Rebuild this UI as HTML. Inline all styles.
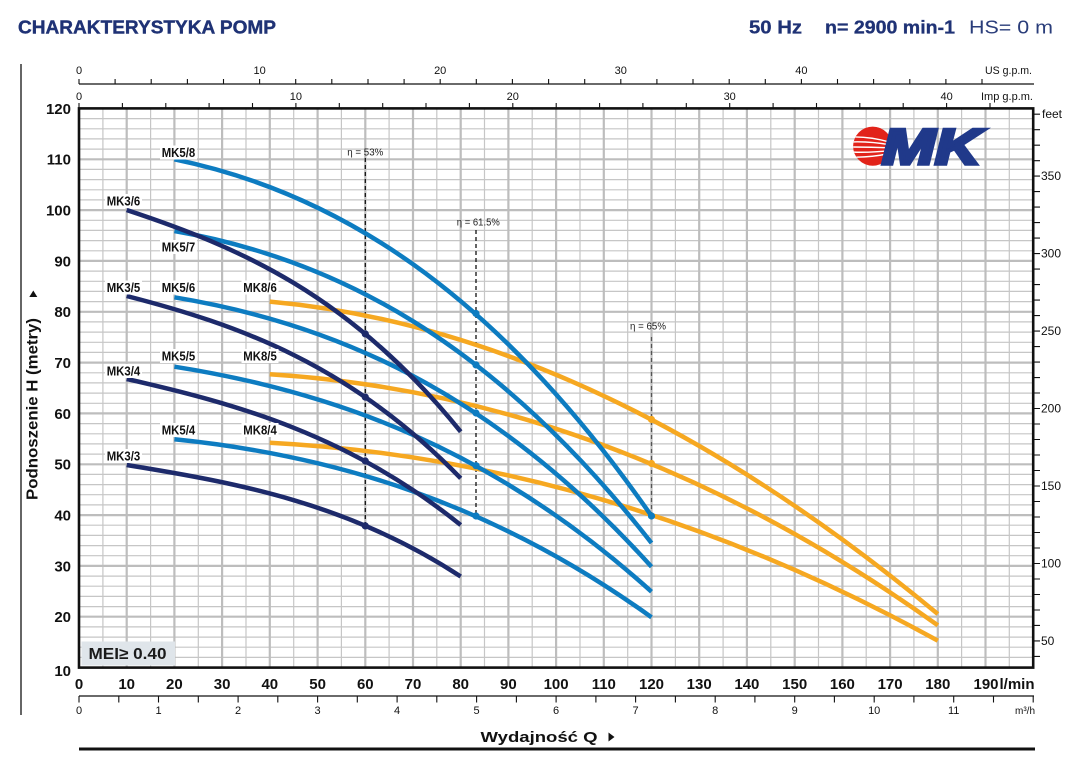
<!DOCTYPE html>
<html><head><meta charset="utf-8"><style>
html,body{margin:0;padding:0;background:#fff;}
svg{display:block;}
text{font-family:"Liberation Sans",Arial,sans-serif;}
</style></head><body>
<svg width="1078" height="767" viewBox="0 0 1078 767" xmlns="http://www.w3.org/2000/svg">
<rect width="1078" height="767" fill="#fff"/>

<!-- Header -->
<text x="18" y="33.5" font-size="18" font-weight="bold" fill="#1f3275" stroke="#1f3275" stroke-width="0.4" textLength="258" lengthAdjust="spacingAndGlyphs">CHARAKTERYSTYKA POMP</text>
<text x="749" y="33.5" font-size="18" font-weight="bold" fill="#1f3275" stroke="#1f3275" stroke-width="0.3" textLength="53" lengthAdjust="spacingAndGlyphs">50 Hz</text>
<text x="825" y="33.5" font-size="18" font-weight="bold" fill="#1f3275" stroke="#1f3275" stroke-width="0.3" textLength="130" lengthAdjust="spacingAndGlyphs">n= 2900 min-1</text>
<text x="969" y="33.5" font-size="18" fill="#2a3d7a" textLength="84" lengthAdjust="spacingAndGlyphs">HS= 0 m</text>

<!-- left frame line -->
<line x1="21" y1="64" x2="21" y2="715" stroke="#000" stroke-width="1.2"/>

<!-- Grid -->
<path fill="none" stroke="#c6c6c6" stroke-width="1.2" d="M102.9 108.4V667.6M150.6 108.4V667.6M198.3 108.4V667.6M246 108.4V667.6M293.7 108.4V667.6M341.4 108.4V667.6M389.1 108.4V667.6M436.8 108.4V667.6M484.5 108.4V667.6M532.2 108.4V667.6M580 108.4V667.6M627.7 108.4V667.6M675.4 108.4V667.6M723.1 108.4V667.6M770.8 108.4V667.6M818.5 108.4V667.6M866.2 108.4V667.6M913.9 108.4V667.6M961.6 108.4V667.6M1009.3 108.4V667.6
M79 657.4H1033M79 647.2H1033M79 637.1H1033M79 626.9H1033M79 606.6H1033M79 596.4H1033M79 586.2H1033M79 576.1H1033M79 555.7H1033M79 545.6H1033M79 535.4H1033M79 525.2H1033M79 504.9H1033M79 494.7H1033M79 484.6H1033M79 474.4H1033M79 454.1H1033M79 443.9H1033M79 433.8H1033M79 423.6H1033M79 403.3H1033M79 393.1H1033M79 382.9H1033M79 372.8H1033M79 352.4H1033M79 342.3H1033M79 332.1H1033M79 321.9H1033M79 301.6H1033M79 291.4H1033M79 281.3H1033M79 271.1H1033M79 250.8H1033M79 240.6H1033M79 230.4H1033M79 220.3H1033M79 199.9H1033M79 189.8H1033M79 179.6H1033M79 169.4H1033M79 149.1H1033M79 138.9H1033M79 128.8H1033M79 118.6H1033"/>
<path fill="none" stroke="#bdbdbd" stroke-width="2.2" d="M126.7 108.4V667.6M174.4 108.4V667.6M222.1 108.4V667.6M269.8 108.4V667.6M317.6 108.4V667.6M365.3 108.4V667.6M413 108.4V667.6M460.7 108.4V667.6M508.4 108.4V667.6M556.1 108.4V667.6M603.8 108.4V667.6M651.5 108.4V667.6M699.2 108.4V667.6M746.9 108.4V667.6M794.7 108.4V667.6M842.4 108.4V667.6M890.1 108.4V667.6M937.8 108.4V667.6M985.5 108.4V667.6
M79 616.7H1033M79 565.9H1033M79 515.1H1033M79 464.3H1033M79 413.4H1033M79 362.6H1033M79 311.8H1033M79 260.9H1033M79 210.1H1033M79 159.3H1033"/>

<!-- Logo -->
<defs><clipPath id="disc"><circle cx="872.7" cy="146.2" r="19.6"/></clipPath></defs>
<circle cx="872.7" cy="146.2" r="19.6" fill="#e2231a"/>
<g clip-path="url(#disc)" fill="none" stroke="#fff" stroke-width="1.4">
<path d="M850 137 Q872 136 896 144"/>
<path d="M850 142 Q872 141 896 146"/>
<path d="M850 147 Q872 147 896 148"/>
<path d="M850 152 Q872 153 896 150"/>
<path d="M850 157 Q872 158 896 152"/>
</g>
<text x="882" y="164" font-size="50" font-weight="bold" font-style="italic" fill="#20398a" stroke="#20398a" stroke-width="3.5" stroke-linejoin="miter" textLength="99" lengthAdjust="spacingAndGlyphs">MK</text>

<!-- MEI box -->
<rect x="81.5" y="641.5" width="93.5" height="24" fill="#dfe5ea"/>
<text x="88.5" y="659" font-size="16" font-weight="bold" fill="#1a1a1a" textLength="78" lengthAdjust="spacingAndGlyphs">MEI≥ 0.40</text>

<!-- Efficiency dashed lines -->
<g fill="none" stroke-width="1.3" stroke-dasharray="4,3">
<line x1="365.3" y1="158" x2="365.3" y2="527" stroke="#111"/>
<line x1="476" y1="230" x2="476" y2="515" stroke="#111"/>
<line x1="651.5" y1="337" x2="651.5" y2="516" stroke="#555"/>
</g>
<text x="365.3" y="155.3" font-size="10" fill="#222" text-anchor="middle" textLength="36" lengthAdjust="spacingAndGlyphs">η = 53%</text>
<text x="478.3" y="225.3" font-size="10" fill="#222" text-anchor="middle" textLength="43" lengthAdjust="spacingAndGlyphs">η = 61.5%</text>
<text x="648" y="329.6" font-size="10" fill="#222" text-anchor="middle" textLength="36" lengthAdjust="spacingAndGlyphs">η = 65%</text>

<!-- Curves -->
<g fill="none" stroke-width="4.5" stroke-linecap="butt">
<g stroke="#f6a821">
<path d="M269.8,301.6 C492.5,321.7 715.1,428.9 937.8,614"/>
<path d="M269.8,374.3 C492.5,388.1 715.1,466 937.8,625.3"/>
<path d="M269.8,442.7 C492.5,454.3 715.1,518 937.8,640.7"/>
</g>
<g stroke="#0d7cc1">
<path d="M174.4,159.3 C333.4,192 492.5,287.5 651.5,516"/>
<path d="M174.4,231 C333.4,258.5 492.5,340 651.5,543"/>
<path d="M174.4,297.3 C333.4,323.5 492.5,391 651.5,566.7"/>
<path d="M174.4,366.7 C333.4,391.8 492.5,448.3 651.5,591.7"/>
<path d="M174.4,439.3 C333.4,455.3 492.5,502.8 651.5,617.3"/>
</g>
<g stroke="#1d2a6b">
<path d="M126.7,210 C238,246.9 349.4,293.8 460.7,431.7"/>
<path d="M126.7,296 C238,324.8 349.4,363.7 460.7,478.3"/>
<path d="M126.7,379 C238,404.1 349.4,435.4 460.7,525"/>
<path d="M126.7,465 C238,483 349.4,503.6 460.7,576.5"/>
</g>
</g>

<!-- Dots -->
<g fill="#1d2a6b">
<circle cx="365.3" cy="333.9" r="3.6"/>
<circle cx="365.3" cy="397.1" r="3.6"/>
<circle cx="365.3" cy="461" r="3.6"/>
<circle cx="365.3" cy="525.9" r="3.6"/>
</g>
<g fill="#0d7cc1">
<circle cx="476" cy="313.5" r="3.6"/>
<circle cx="476" cy="364.9" r="3.6"/>
<circle cx="476" cy="413" r="3.6"/>
<circle cx="476" cy="465.7" r="3.6"/>
<circle cx="476" cy="516" r="3.6"/>
</g>
<g fill="#f6a821">
<circle cx="651.5" cy="419.5" r="3.6"/>
<circle cx="651.5" cy="463.5" r="3.6"/>
</g>
<circle cx="651.5" cy="516" r="3.6" fill="#0d7cc1"/>

<!-- Curve labels -->
<g fill="#fff">
<rect x="160" y="145.5" width="37" height="14"/>
<rect x="105" y="194" width="37" height="14"/>
<rect x="160" y="240" width="37" height="14"/>
<rect x="105" y="280.5" width="37" height="14"/>
<rect x="160" y="280.5" width="37" height="14"/>
<rect x="241.5" y="280.5" width="37" height="14"/>
<rect x="160" y="349" width="37" height="14"/>
<rect x="241.5" y="349" width="37" height="14"/>
<rect x="105" y="364" width="37" height="14"/>
<rect x="160" y="423" width="37" height="14"/>
<rect x="241.5" y="423" width="37" height="14"/>
<rect x="105" y="449" width="37" height="14"/>
</g>
<g font-size="13" font-weight="bold" fill="#111">
<text x="161.7" y="157" textLength="33.5" lengthAdjust="spacingAndGlyphs">MK5/8</text>
<text x="106.7" y="205.3" textLength="33.5" lengthAdjust="spacingAndGlyphs">MK3/6</text>
<text x="161.7" y="251.3" textLength="33.5" lengthAdjust="spacingAndGlyphs">MK5/7</text>
<text x="106.7" y="292" textLength="33.5" lengthAdjust="spacingAndGlyphs">MK3/5</text>
<text x="161.7" y="292" textLength="33.5" lengthAdjust="spacingAndGlyphs">MK5/6</text>
<text x="243.3" y="292" textLength="33.5" lengthAdjust="spacingAndGlyphs">MK8/6</text>
<text x="161.7" y="360.6" textLength="33.5" lengthAdjust="spacingAndGlyphs">MK5/5</text>
<text x="243.3" y="360.6" textLength="33.5" lengthAdjust="spacingAndGlyphs">MK8/5</text>
<text x="106.7" y="375.3" textLength="33.5" lengthAdjust="spacingAndGlyphs">MK3/4</text>
<text x="161.7" y="434.6" textLength="33.5" lengthAdjust="spacingAndGlyphs">MK5/4</text>
<text x="243.3" y="434.6" textLength="33.5" lengthAdjust="spacingAndGlyphs">MK8/4</text>
<text x="106.7" y="460.6" textLength="33.5" lengthAdjust="spacingAndGlyphs">MK3/3</text>
</g>

<!-- Plot border -->
<rect x="79" y="108.4" width="954.2" height="559.2" fill="none" stroke="#111" stroke-width="2.6"/>

<!-- Top axes: US gpm -->
<line x1="79" y1="84" x2="1034" y2="84" stroke="#111" stroke-width="1.2"/>
<path stroke="#111" stroke-width="1.1" d="M79 79V84M115.1 79V84M151.2 79V84M187.4 79V84M223.5 79V84M259.6 79V84M295.7 79V84M331.8 79V84M368 79V84M404.1 79V84M440.2 79V84M476.3 79V84M512.4 79V84M548.6 79V84M584.7 79V84M620.8 79V84M656.9 79V84M693 79V84M729.2 79V84M765.3 79V84M801.4 79V84M837.5 79V84M873.6 79V84M909.8 79V84M945.9 79V84M982 79V84"/>
<g font-size="11" fill="#111" text-anchor="middle">
<text x="79" y="74">0</text>
<text x="259.6" y="74">10</text>
<text x="440.2" y="74">20</text>
<text x="620.8" y="74">30</text>
<text x="801.4" y="74">40</text>
</g>
<text x="1032" y="74" font-size="11" fill="#111" text-anchor="end" textLength="47" lengthAdjust="spacingAndGlyphs">US g.p.m.</text>

<!-- Imp gpm -->
<path stroke="#111" stroke-width="1.1" d="M79 103V108.4M122.4 103V108.4M165.8 103V108.4M209.1 103V108.4M252.5 103V108.4M295.9 103V108.4M339.3 103V108.4M382.7 103V108.4M426 103V108.4M469.4 103V108.4M512.8 103V108.4M556.2 103V108.4M599.6 103V108.4M642.9 103V108.4M686.3 103V108.4M729.7 103V108.4M773.1 103V108.4M816.5 103V108.4M859.8 103V108.4M903.2 103V108.4M946.6 103V108.4M990 103V108.4"/>
<g font-size="11" fill="#111" text-anchor="middle">
<text x="79" y="100">0</text>
<text x="295.9" y="100">10</text>
<text x="512.8" y="100">20</text>
<text x="729.7" y="100">30</text>
<text x="946.6" y="100">40</text>
</g>
<text x="1033" y="100" font-size="11" fill="#111" text-anchor="end" textLength="52" lengthAdjust="spacingAndGlyphs">Imp g.p.m.</text>

<!-- Right axis feet -->
<path stroke="#111" stroke-width="1.1" d="M1033 656.4H1040M1033 640.9H1040M1033 625.4H1040M1033 610H1040M1033 594.5H1040M1033 579H1040M1033 563.5H1040M1033 548H1040M1033 532.5H1040M1033 517H1040M1033 501.5H1040M1033 486H1040M1033 470.5H1040M1033 455H1040M1033 439.5H1040M1033 424H1040M1033 408.5H1040M1033 393H1040M1033 377.6H1040M1033 362.1H1040M1033 346.6H1040M1033 331.1H1040M1033 315.6H1040M1033 300.1H1040M1033 284.6H1040M1033 269.1H1040M1033 253.6H1040M1033 238.1H1040M1033 222.6H1040M1033 207.1H1040M1033 191.6H1040M1033 176.1H1040M1033 160.7H1040M1033 145.2H1040M1033 129.7H1040M1033 114.2H1040"/>
<g font-size="12" fill="#111">
<text x="1041" y="645">50</text>
<text x="1041" y="567.5">100</text>
<text x="1041" y="490">150</text>
<text x="1041" y="412.5">200</text>
<text x="1041" y="335.1">250</text>
<text x="1041" y="257.6">300</text>
<text x="1041" y="180.1">350</text>
<text x="1042" y="118">feet</text>
</g>

<!-- Left y labels -->
<g font-size="15" font-weight="bold" fill="#111" text-anchor="end">
<text x="71" y="676">10</text>
<text x="71" y="622">20</text>
<text x="71" y="571.3">30</text>
<text x="71" y="520.4">40</text>
<text x="71" y="469.6">50</text>
<text x="71" y="418.8">60</text>
<text x="71" y="368">70</text>
<text x="71" y="317.1">80</text>
<text x="71" y="266.3">90</text>
<text x="71" y="215.5">100</text>
<text x="71" y="164.6">110</text>
<text x="71" y="113.8">120</text>
</g>

<!-- Left title -->
<text transform="translate(37.5,500) rotate(-90)" x="0" y="0" font-size="15.5" font-weight="bold" fill="#111" textLength="182" lengthAdjust="spacingAndGlyphs">Podnoszenie H  (metry)</text>
<polygon points="33.3,290.5 29.3,297 37.3,297" fill="#111"/>

<!-- Bottom l/min labels -->
<g font-size="15" font-weight="bold" fill="#111" text-anchor="middle">
<text x="79" y="689">0</text>
<text x="126.7" y="689">10</text>
<text x="174.4" y="689">20</text>
<text x="222.1" y="689">30</text>
<text x="269.8" y="689">40</text>
<text x="317.6" y="689">50</text>
<text x="365.3" y="689">60</text>
<text x="413" y="689">70</text>
<text x="460.7" y="689">80</text>
<text x="508.4" y="689">90</text>
<text x="556.1" y="689">100</text>
<text x="603.8" y="689">110</text>
<text x="651.5" y="689">120</text>
<text x="699.2" y="689">130</text>
<text x="746.9" y="689">140</text>
<text x="794.7" y="689">150</text>
<text x="842.4" y="689">160</text>
<text x="890.1" y="689">170</text>
<text x="937.8" y="689">180</text>
<text x="986" y="689">190</text>
</g>
<text x="999.5" y="689" font-size="15" font-weight="bold" fill="#111">l/min</text>

<!-- m3/h axis -->
<line x1="79" y1="696" x2="1034" y2="696" stroke="#111" stroke-width="1.2"/>
<path stroke="#111" stroke-width="1.1" d="M79 696V702.5M118.8 696V702.5M158.5 696V702.5M198.3 696V702.5M238.1 696V702.5M277.8 696V702.5M317.6 696V702.5M357.3 696V702.5M397.1 696V702.5M436.8 696V702.5M476.6 696V702.5M516.4 696V702.5M556.1 696V702.5M595.9 696V702.5M635.6 696V702.5M675.4 696V702.5M715.2 696V702.5M754.9 696V702.5M794.7 696V702.5M834.4 696V702.5M874.2 696V702.5M913.9 696V702.5M953.7 696V702.5M993.5 696V702.5M1033.2 696V702.5"/>
<g font-size="11" fill="#111" text-anchor="middle">
<text x="79" y="714">0</text>
<text x="158.5" y="714">1</text>
<text x="238.1" y="714">2</text>
<text x="317.6" y="714">3</text>
<text x="397.1" y="714">4</text>
<text x="476.6" y="714">5</text>
<text x="556.1" y="714">6</text>
<text x="635.6" y="714">7</text>
<text x="715.2" y="714">8</text>
<text x="794.7" y="714">9</text>
<text x="874.2" y="714">10</text>
<text x="953.7" y="714">11</text>
</g>
<text x="1035" y="714" font-size="10" fill="#111" text-anchor="end">m³/h</text>

<!-- Wydajnosc -->
<text x="480.5" y="742" font-size="15" font-weight="bold" fill="#111" textLength="117" lengthAdjust="spacingAndGlyphs">Wydajność Q</text>
<polygon points="608.5,732.5 608.5,741.5 614.5,737" fill="#111"/>
<line x1="79" y1="749" x2="1035" y2="749" stroke="#111" stroke-width="3"/>
</svg>
</body></html>
